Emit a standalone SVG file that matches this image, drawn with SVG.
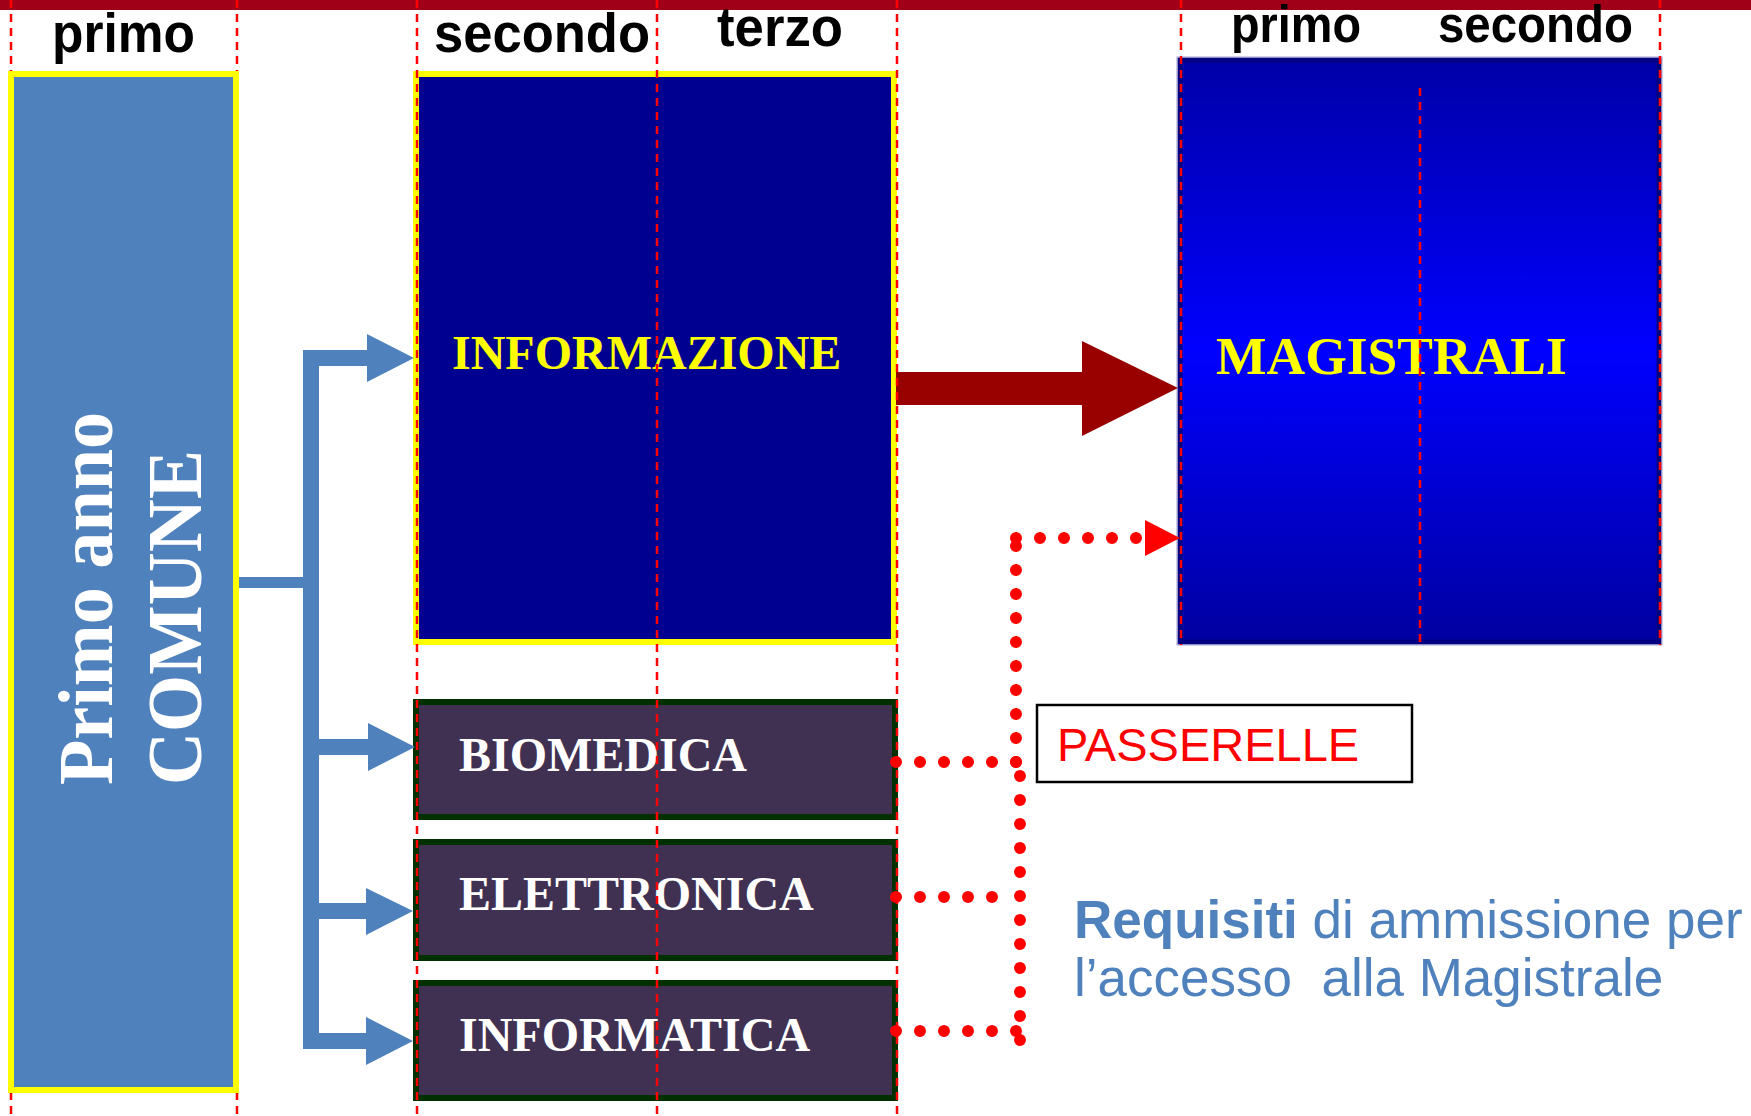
<svg xmlns="http://www.w3.org/2000/svg" width="1751" height="1116" viewBox="0 0 1751 1116">
<defs>
<style>
.hdr{font-family:"Liberation Sans",Arial,sans-serif;font-weight:bold;fill:#000}
.serif{font-family:"Liberation Serif","Times New Roman",serif;font-weight:bold}
.guide{stroke:#FF0000;stroke-width:2.5;stroke-dasharray:8 6;fill:none}
.blue{fill:#4F81BD}
.dark{fill:#403152;stroke:#003000;stroke-width:6}
.wtxt{fill:#FFFFFF;font-size:48px}
.dots{stroke:#FF0000;stroke-width:12;stroke-linecap:round;stroke-dasharray:0 24;fill:none}
</style>
<linearGradient id="magGrad" x1="0" y1="0" x2="0" y2="1">
<stop offset="0" stop-color="#0000A8"/>
<stop offset="0.5" stop-color="#0000FF"/>
<stop offset="1" stop-color="#0000A0"/>
</linearGradient>
</defs>
<rect x="0" y="0" width="1751" height="1116" fill="#FFFFFF"/>
<rect id="topband" x="0" y="0" width="1751" height="10" fill="#A00018"/>

<g id="headers">
<text class="hdr" x="52" y="52" font-size="56" textLength="143" lengthAdjust="spacingAndGlyphs">primo</text>
<text class="hdr" x="434" y="52" font-size="56" textLength="216" lengthAdjust="spacingAndGlyphs">secondo</text>
<text class="hdr" x="717" y="46" font-size="56" textLength="126" lengthAdjust="spacingAndGlyphs">terzo</text>
<text class="hdr" x="1231" y="42" font-size="52" textLength="130" lengthAdjust="spacingAndGlyphs">primo</text>
<text class="hdr" x="1438" y="42" font-size="52" textLength="195" lengthAdjust="spacingAndGlyphs">secondo</text>
</g>

<g id="informazione">
<rect x="416" y="74" width="478" height="568" fill="#000090" stroke="#FFFF00" stroke-width="6"/>
<text class="serif" x="452" y="369" font-size="48" fill="#FFFF00">INFORMAZIONE</text>
</g>

<g id="biomedica">
<rect class="dark" x="416" y="702" width="479" height="115"/>
<text class="serif wtxt" x="459" y="771">BIOMEDICA</text>
</g>
<g id="elettronica">
<rect class="dark" x="416" y="842" width="479" height="116"/>
<text class="serif wtxt" x="459" y="910">ELETTRONICA</text>
</g>
<g id="informatica">
<rect class="dark" x="416" y="983" width="479" height="115"/>
<text class="serif wtxt" x="459" y="1051">INFORMATICA</text>
</g>

<g id="magistrali">
<rect x="1180" y="60" width="479" height="582" fill="url(#magGrad)" stroke="#000080" stroke-width="5"/>
<rect x="1177" y="57" width="485" height="588" fill="none" stroke="#A0A0D0" stroke-width="1"/>
<text class="serif" x="1216" y="374" font-size="53.5" fill="#FFFF00">MAGISTRALI</text>
</g>

<g id="passerelle">
<rect x="1037" y="705" width="375" height="77" fill="#FFFFFF" stroke="#000000" stroke-width="2.5"/>
<text x="1057" y="761" font-family="'Liberation Sans',Arial,sans-serif" font-size="47" fill="#FF0000">PASSERELLE</text>
</g>

<g id="requisiti">
<text font-family="'Liberation Sans',Arial,sans-serif" font-size="53" fill="#4F81BD" style="white-space:pre"><tspan x="1074" y="938"><tspan font-weight="bold">Requisiti</tspan> di ammissione per</tspan><tspan x="1074" y="996">l’accesso  alla Magistrale</tspan></text>
</g>

<g id="connectors">
<rect class="blue" x="237" y="577" width="70" height="11"/>
<path class="blue" d="M303,350 H367 V334 L414,358 L367,382 V366 H319 V739 H368 V723 L415,747 L368,771 V755 H319 V903 H366 V888 L413,911 L366,935 V919 H319 V1033 H366 V1017 L413,1041 L366,1065 V1049 H303 Z"/>
<polygon points="896,372 1082,372 1082,341 1178,388 1082,436 1082,405 896,405" fill="#990000"/>
<path class="dots" d="M1016,538 H1137"/>
<polygon points="1145,520 1180,538 1145,556" fill="#FF0000"/>
<path class="dots" d="M1016,546 V763"/>
<path class="dots" d="M1020,776 V1041"/>
<path class="dots" d="M896,762 H1017"/>
<path class="dots" d="M896,897 H993"/>
<path class="dots" d="M896,1031 H1017"/>
</g>

<g id="guides">
<line class="guide" x1="11" y1="0" x2="11" y2="1116"/>
<line class="guide" x1="237" y1="0" x2="237" y2="1116"/>
<line class="guide" x1="417" y1="0" x2="417" y2="1116"/>
<line class="guide" x1="657" y1="0" x2="657" y2="1116"/>
<line class="guide" x1="897" y1="0" x2="897" y2="1116"/>
<line class="guide" x1="1181" y1="0" x2="1181" y2="645"/>
<line class="guide" x1="1420" y1="88" x2="1420" y2="645"/>
<line class="guide" x1="1660" y1="0" x2="1660" y2="645"/>
</g>

<g id="primo-anno">
<rect x="11" y="74" width="225" height="1016" fill="#4F81BD" stroke="#FFFF00" stroke-width="6"/>
<text class="serif" transform="translate(112,785) rotate(-90)" font-size="78" fill="#FFFFFF" textLength="373" lengthAdjust="spacingAndGlyphs">Primo anno</text>
<text class="serif" transform="translate(201,785) rotate(-90)" font-size="78" fill="#FFFFFF" textLength="335" lengthAdjust="spacingAndGlyphs">COMUNE</text>
</g>
</svg>
